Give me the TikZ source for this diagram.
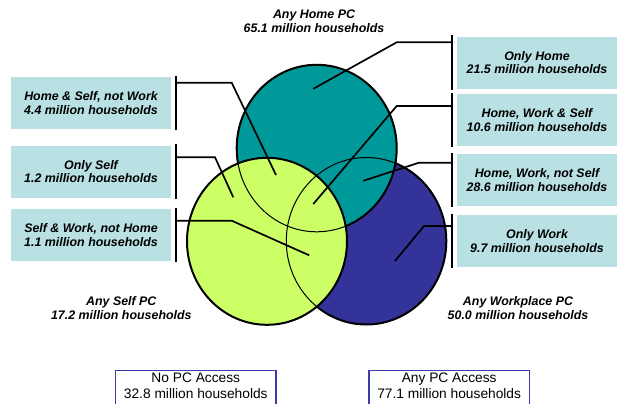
\documentclass[tikz,border=0pt]{standalone}
\usepackage{fontspec}
\setmainfont{Liberation Sans}
\definecolor{tealc}{RGB}{0,153,153}
\definecolor{selfc}{RGB}{204,255,102}
\definecolor{workc}{RGB}{51,51,153}
\definecolor{boxc}{RGB}{185,224,227}
\definecolor{accc}{RGB}{60,60,170}
\begin{document}
\begin{tikzpicture}[x=1pt,y=-1pt,
  lbl/.style={font=\bfseries\itshape\fontsize{12.4}{13.7}\selectfont, align=center, inner sep=0pt},
  infobox/.style={lbl, fill=boxc, minimum width=160pt, minimum height=52pt},
  barline/.style={line width=1.9pt},
  leader/.style={line width=1.7pt, line join=miter},
  thickrim/.style={line width=2pt, draw=black},
  thinrim/.style={line width=1pt, draw=black},
  acctext/.style={font=\fontsize{13.75}{16.7}\selectfont, align=center, inner sep=0pt},
  accline/.style={draw=accc, line width=1.2pt}]
\useasboundingbox (0,0) rectangle (622,404);
\clip (0,0) rectangle (622,404);
\fill[white] (0,0) rectangle (622,404);

% circles
\coordinate (cW) at (366.3,241);
\coordinate (cH) at (316.7,148.3);
\coordinate (cS) at (267,241.3);
\path[fill=workc, thickrim] (cW) ellipse [x radius=80, y radius=83.5];
\path[fill=tealc, thickrim] (cH) ellipse [x radius=80, y radius=83.5];
\path[fill=selfc, thickrim] (cS) ellipse [x radius=80, y radius=83.5];
\path[thinrim] (cW) ellipse [x radius=80, y radius=83.5];
\path[thinrim] (cH) ellipse [x radius=80, y radius=83.5];

% circle labels
\node[lbl] (homel) at (314,21.2) {Any Home PC\\65.1 million households};
\node[lbl] (selfl) at (121.3,308.4) {Any Self PC\\17.2 million households};
\node[lbl] (workl) at (518,308) {Any Workplace PC\\50.0 million households};

% info boxes
\node[infobox] (hs)  at (91,103)   {Home \& Self, not Work\\4.4 million households};
\node[infobox] (os)  at (91,171.7) {Only Self\\1.2 million households};
\node[infobox] (sw)  at (91,235)   {Self \& Work, not Home\\1.1 million households};
\node[infobox] (oh)  at (537,62.7) {Only Home\\21.5 million households};
\node[infobox] (hws) at (537,120)  {Home, Work \& Self\\10.6 million households};
\node[infobox] (hwn) at (537,180)  {Home, Work, not Self\\28.6 million households};
\node[infobox] (ow)  at (537,241)  {Only Work\\9.7 million households};

% bars
\foreach \b in {hs,os,sw}
  \draw[barline] ([xshift=5pt,yshift=1pt]\b.north east) -- ([xshift=5pt,yshift=-1pt]\b.south east);
\foreach \b in {oh,hws,hwn,ow}
  \draw[barline] ([xshift=-5pt,yshift=1pt]\b.north west) -- ([xshift=-5pt,yshift=-1pt]\b.south west);

% leader end points
\coordinate (hsA) at (176,82.7);   \coordinate (hsE) at (276,175);
\coordinate (osA) at (176,157.3);  \coordinate (osE) at (233.3,197.3);
\coordinate (swA) at (176,220.7);  \coordinate (swE) at (309.2,255.3);
\coordinate (ohA) at (452,42.3);   \coordinate (ohE) at (313.3,88.8);
\coordinate (hwsA) at (452,106);   \coordinate (hwsE) at (313.3,204);
\coordinate (hwnA) at (452,162.7); \coordinate (hwnE) at (363.3,180.8);
\coordinate (owA) at (452,226);    \coordinate (owE) at (395,261);

\draw[leader] (hsA) -- ++(55.7,0) -- (hsE);
\draw[leader] (osA) -- ++(39,0) -- (osE);
\draw[leader] (swA) -- ++(55.7,0) -- (swE);
\draw[leader] (ohA) -- ++(-55.3,0) -- (ohE);
\draw[leader] (hwsA) -- ++(-55.3,0) -- (hwsE);
\draw[leader] (hwnA) -- ++(-33,0) -- (hwnE);
\draw[leader] (owA) -- ++(-28,0) -- (owE);

% access boxes
\node[acctext] (nopc) at (195.8,385.7) {No PC Access\\32.8 million households};
\node[acctext] (anypc) at (449.2,385.7) {Any PC Access\\77.1 million households};
\draw[accline] (115.7,412) |- (276,370.7) -- (276,412);
\draw[accline] (369,412) |- (529.3,370.7) -- (529.3,412);
\end{tikzpicture}
\end{document}
